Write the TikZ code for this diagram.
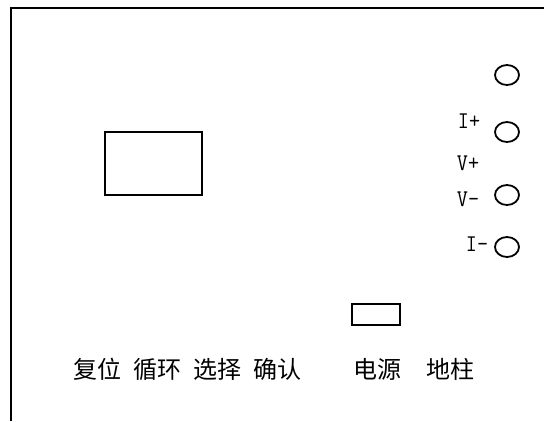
\documentclass[tikz,border=0pt]{standalone}
\usepackage{fontspec}
\newfontfamily\cjk{Noto Sans CJK SC}

\begin{document}
\begin{tikzpicture}[x=1pt, y=-1pt, line width=1.8pt,
  pin/.style={font=\ttfamily\fontsize{24}{26}\selectfont, inner sep=0pt, xscale=0.9},
  key/.style={font=\cjk\fontsize{24}{26}\selectfont, inner sep=0pt}]
  \useasboundingbox (0,0) rectangle (544,421);

  % Panel frame
  \draw (11,421) -- (11,8) -- (544,8);

  % Display and power switch
  \draw (105,132) rectangle (202,195);
  \draw (352,304) rectangle (400,325);

  % Terminals
  \foreach \y in {75,132,195,247}
    \draw (507,\y) ellipse (12pt and 10pt);

  % Terminal labels
  \node[pin] (ip) at (469,121) {I+};
  \node[pin] (vp) at (468,163) {V+};
  \node[pin] (vm) at (468,199) {V-};
  \node[pin] (im) at (477,244) {I-};

  % Keys
  \node[key] (reset)   at (97,369)  {复位};
  \node[key] (cycle)   at (157,369) {循环};
  \node[key] (select)  at (217,369) {选择};
  \node[key] (confirm) at (277,369) {确认};
  \node[key] (power)   at (377,369) {电源};
  \node[key] (ground)  at (450,369) {地柱};

\end{tikzpicture}
\end{document}
